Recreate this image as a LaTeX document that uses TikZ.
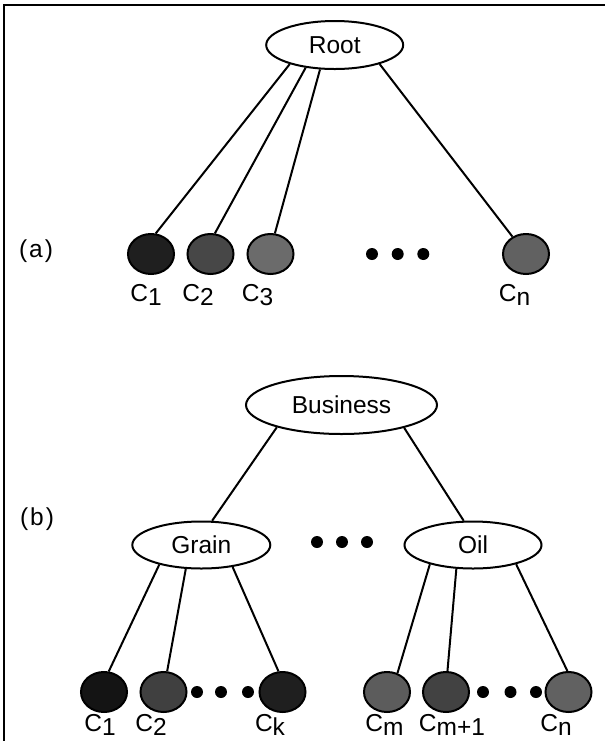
\documentclass[tikz,border=0pt]{standalone}
\usepackage{fontspec}
\setmainfont{Liberation Sans}
\usetikzlibrary{shapes.geometric}
\newcommand{\cname}[1]{C\raisebox{-2pt}{#1}}
\begin{document}
\begin{tikzpicture}[x=0.5pt,y=-0.5pt,line width=1pt,
  every node/.style={font=\fontsize{12.25}{14}\selectfont},
  cls/.style={draw,ellipse,inner sep=0pt,fill=white},
  leaf/.style={draw,ellipse,inner sep=0pt,minimum width=23pt,minimum height=20pt},
  dot/.style={circle,fill=black,inner sep=0pt,minimum size=6pt},
  lbl/.style={anchor=base,inner sep=0pt}]
  \useasboundingbox (0,0) rectangle (605,741);
  \draw[line width=0.8pt] (4,741) -- (4,5) -- (605,5);
  % (a)
  \node[lbl] (tagA) at (36,257) {(\kern1pt a\kern1pt)};
  \node[cls,minimum width=68.5pt,minimum height=24pt] (root) at (334.7,45) {Root};
  \node[leaf,fill=black!88] (a1) at (151,254) {};
  \node[leaf,fill=black!72] (a2) at (210.5,254) {};
  \node[leaf,fill=black!58] (a3) at (270.5,254) {};
  \node[leaf,fill=black!62] (an) at (526,254) {};
  \node[dot] (da1) at (372,254) {};
  \node[dot] (da2) at (397.7,254) {};
  \node[dot] (da3) at (423.3,254) {};
  \node[lbl] (la1) at (146,301) {\cname{1}};
  \node[lbl] (la2) at (198,301) {\cname{2}};
  \node[lbl] (la3) at (257.5,301) {\cname{3}};
  \node[lbl] (lan) at (514.5,301) {\cname{n}};
  \draw (root.203) -- (a1.77);
  \draw (root.218) -- (a2.78);
  \draw (root.239) -- (a3.78);
  \draw (root.337) -- (an.128);
  % (b)
  \node[lbl] (tagB) at (37,525) {(\kern1pt b\kern1pt)};
  \node[cls,minimum width=95.5pt,minimum height=29pt] (bus) at (341.5,405) {Business};
  \node[cls,minimum width=69pt,minimum height=23.5pt] (grain) at (201.3,545) {Grain};
  \node[cls,minimum width=68.5pt,minimum height=23.5pt] (oil) at (473,545) {Oil};
  \node[dot] (dm1) at (317,542) {};
  \node[dot] (dm2) at (342,542) {};
  \node[dot] (dm3) at (367,542) {};
  \node[leaf,fill=black!92] (b1) at (104,692) {};
  \node[leaf,fill=black!75] (b2) at (163.5,692) {};
  \node[leaf,fill=black!88] (bk) at (282.5,692) {};
  \node[leaf,fill=black!64] (bm) at (387,692) {};
  \node[leaf,fill=black!74] (bm1) at (446,692) {};
  \node[leaf,fill=black!62] (bn) at (568.5,692) {};
  \node[dot] (dg1) at (197,692) {};
  \node[dot] (dg2) at (221,692) {};
  \node[dot] (dg3) at (248,692) {};
  \node[dot] (do1) at (483,692) {};
  \node[dot] (do2) at (510.5,692) {};
  \node[dot] (do3) at (536,692) {};
  \node[lbl] (lb1) at (100,731) {\cname{1}};
  \node[lbl] (lb2) at (151,731) {\cname{2}};
  \node[lbl] (lbk) at (270,731) {\cname{k}};
  \node[lbl] (lbm) at (384.5,731) {\cname{m}};
  \node[lbl] (lbm1) at (452,731) {\cname{m+1}};
  \node[lbl] (lbn) at (556,731) {\cname{n}};
  \draw (bus.199) -- (grain.66);
  \draw (bus.340) -- (oil.111);
  \draw (grain.205) -- (b1.77);
  \draw (grain.237) -- (b2.80);
  \draw (grain.325) -- (bk.101);
  \draw (oil.204) -- (bm.61);
  \draw (oil.235) -- (bm1.86);
  \draw (oil.336) -- (bn.93);
\end{tikzpicture}
\end{document}
